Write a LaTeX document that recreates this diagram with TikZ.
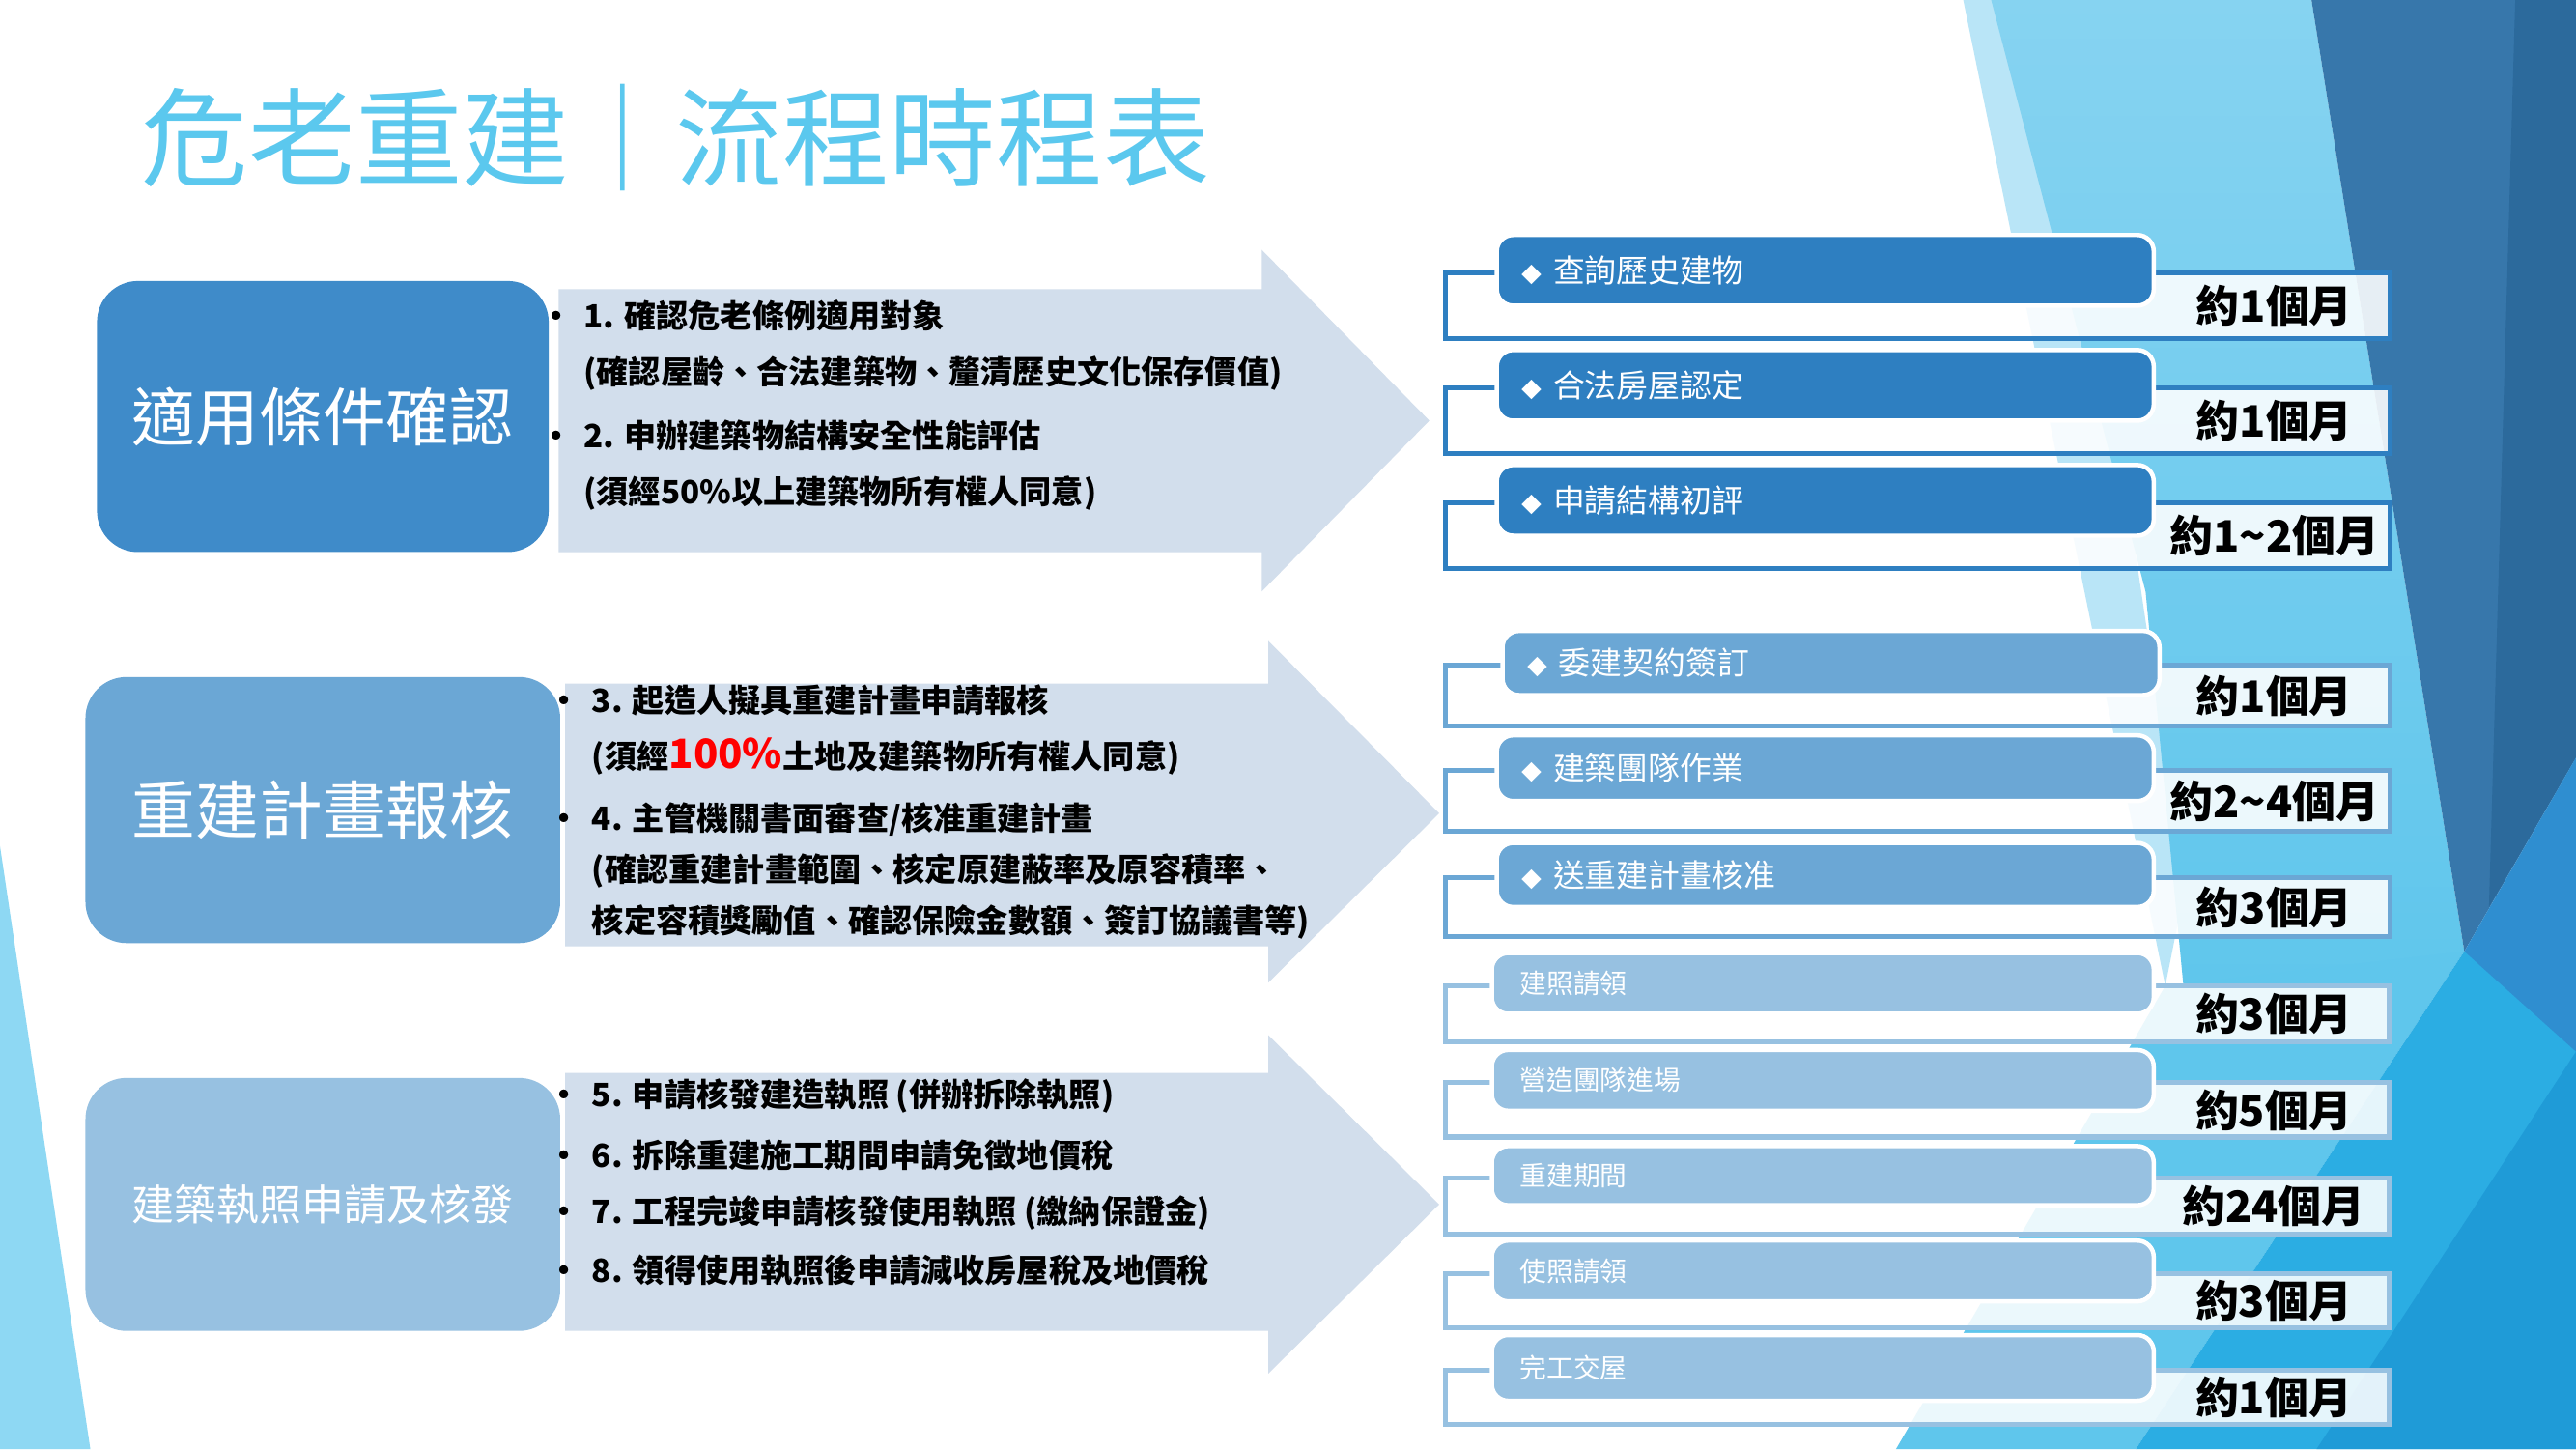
\documentclass[tikz,border=0pt]{standalone}
\usepackage{fontspec}
\setmainfont{Noto Sans CJK TC}
\usetikzlibrary{positioning}

\definecolor{titleblue}{HTML}{5BC8EE}
\definecolor{stageone}{HTML}{3F8BC9}
\definecolor{deepblue}{HTML}{2E7FC1}
\definecolor{midblue}{HTML}{6BA7D5}
\definecolor{paleblue}{HTML}{97C1E1}
\definecolor{arrowfill}{HTML}{D2DEEC}
\definecolor{skytop}{HTML}{86D3F1}
\definecolor{skylow}{HTML}{5FC6EC}
\definecolor{skyband}{HTML}{B9E5F7}
\definecolor{brightblue}{HTML}{2BADE3}
\definecolor{steel}{HTML}{3777AB}
\definecolor{darksteel}{HTML}{2C6A9C}
\definecolor{medblue}{HTML}{2F8ED0}
\definecolor{lowblue}{HTML}{1F9BD7}
\definecolor{wedge}{HTML}{8ED8F3}

\newcommand{\diamondtick}{{\fontsize{7}{7}\selectfont ◆}\hspace{4pt}}

\begin{document}
\begin{tikzpicture}[x=0.02cm, y=-0.02cm,
    stage/.style={rounded corners=0.5cm, text=white, align=center, inner sep=0pt},
    pointtext/.style={anchor=west, align=left, inner sep=0pt,
                      font=\fontsize{11.1}{19.3}\selectfont\bfseries},
    spanbox/.style={draw=#1, line width=1.7pt, fill=white, fill opacity=0.88,
                    minimum width=11.5cm, inner sep=0pt},
    stepbar/.style={fill=#1, draw=white, line width=1.5pt, rounded corners=0.2cm,
                    text=white, text width=7.4cm, inner xsep=0.3cm, inner ysep=0pt,
                    align=left, font=\fontsize{11}{12}\selectfont},
    lowbar/.style={stepbar=paleblue, inner xsep=0.34cm, text width=7.38cm,
                   font=\fontsize{9.3}{10}\selectfont},
    months/.style={inner sep=0pt, font=\fontsize{15}{15}\selectfont\bfseries},
]
\useasboundingbox (0, 0) rectangle (1568, 882);
\fill[white] (0, 0) rectangle (1568, 882);

\fill[skyband] (1195, 0) -- (1250, 0) -- (1330, 540) -- (1318, 600) -- cycle;
\shade[top color=skytop, bottom color=skylow] (1212, 0) -- (1407, 0) -- (1500, 579)
    -- (1330, 610) -- (1306, 360) -- cycle;
\fill[skylow] (1154, 882) -- (1318, 600) -- (1500, 579) -- (1300, 882) -- cycle;
\fill[brightblue] (1300, 882) -- (1500, 579) -- (1568, 600) -- (1568, 882) -- cycle;
\fill[steel] (1407, 0) -- (1568, 0) -- (1568, 461) -- (1500, 579) -- cycle;
\fill[darksteel] (1531, 0) -- (1568, 0) -- (1568, 461) -- (1515, 552) -- cycle;
\fill[medblue] (1500, 579) -- (1568, 461) -- (1568, 640) -- cycle;
\fill[lowblue] (1410, 882) -- (1568, 640) -- (1568, 882) -- cycle;
\fill[wedge] (0, 515) -- (55, 882) -- (0, 882) -- cycle;

\node[anchor=west, inner sep=0pt, text=titleblue, font=\fontsize{37}{40}\selectfont]
    (title) at (86, 84) {危老重建｜流程時程表};

\fill[arrowfill] (340, 176) -- (768, 176) -- (768, 152) -- (870, 256) -- (768, 360)
    -- (768, 336) -- (340, 336) -- cycle;
\fill[arrowfill] (344, 416) -- (772, 416) -- (772, 390) -- (876, 495) -- (772, 598)
    -- (772, 576) -- (344, 576) -- cycle;
\fill[arrowfill] (344, 653) -- (772, 653) -- (772, 630) -- (876, 733) -- (772, 836)
    -- (772, 810) -- (344, 810) -- cycle;

\node[stage, fill=stageone, minimum width=5.5cm, minimum height=3.3cm,
      font=\fontsize{22}{22}\selectfont] (s1) at (196.5, 253.5) {適用條件確認};
\node[stage, fill=midblue, minimum width=5.78cm, minimum height=3.24cm,
      font=\fontsize{22}{22}\selectfont] (s2) at (196.5, 493) {重建計畫報核};
\node[stage, fill=paleblue, minimum width=5.78cm, minimum height=3.08cm,
      font=\fontsize{14.7}{15}\selectfont] (s3) at (196.5, 733) {建築執照申請及核發};

\node[pointtext] (p1) at (355, 210) {\llap{•\hspace{4pt}}1. 確認危老條例適用對象\\(確認屋齡、合法建築物、釐清歷史文化保存價值)};
\node[pointtext] (p2) at (355, 283) {\llap{•\hspace{4pt}}2. 申辦建築物結構安全性能評估\\(須經50\%以上建築物所有權人同意)};
\node[pointtext] (p3) at (360, 444) {\llap{•\hspace{4pt}}3. 起造人擬具重建計畫申請報核\\(須經{\color{red}\fontsize{14}{14}\selectfont 100\%}土地及建築物所有權人同意)};
\node[pointtext, font=\fontsize{11.1}{17.6}\selectfont\bfseries] (p4) at (360, 530)
    {\llap{•\hspace{4pt}}4. 主管機關書面審查/核准重建計畫\\(確認重建計畫範圍、核定原建蔽率及原容積率、\\核定容積獎勵值、確認保險金數額、簽訂協議書等)};
\node[pointtext] (p5) at (360, 667) {\llap{•\hspace{4pt}}5. 申請核發建造執照 (併辦拆除執照)};
\node[pointtext] (p6) at (360, 703) {\llap{•\hspace{4pt}}6. 拆除重建施工期間申請免徵地價稅};
\node[pointtext] (p7) at (360, 738) {\llap{•\hspace{4pt}}7. 工程完竣申請核發使用執照 (繳納保證金)};
\node[pointtext] (p8) at (360, 773) {\llap{•\hspace{4pt}}8. 領得使用執照後申請減收房屋稅及地價稅};

\node[spanbox=deepblue, minimum height=0.8cm] (f1) at (1167.5, 186) {};
\node[stepbar=deepblue, minimum height=0.86cm] (t1) at ([xshift=-1.13cm]f1.north) {\diamondtick 查詢歷史建物};
\node[months] (m1) at ([xshift=-1.44cm]f1.east) {約1個月};

\node[spanbox=deepblue, minimum height=0.8cm] (f2) at (1167.5, 256) {};
\node[stepbar=deepblue, minimum height=0.86cm] (t2) at ([xshift=-1.13cm]f2.north) {\diamondtick 合法房屋認定};
\node[months] (m2) at ([xshift=-1.44cm]f2.east) {約1個月};

\node[spanbox=deepblue, minimum height=0.8cm] (f3) at (1167.5, 326) {};
\node[stepbar=deepblue, minimum height=0.86cm] (t3) at ([xshift=-1.13cm]f3.north) {\diamondtick 申請結構初評};
\node[months] (m3) at ([xshift=-1.44cm]f3.east) {約1\textasciitilde 2個月};

\node[spanbox=midblue, minimum height=0.74cm] (f4) at (1167.5, 423.5) {};
\node[stepbar=midblue, minimum height=0.78cm] (t4) at ([xshift=-1.06cm]f4.north) {\diamondtick 委建契約簽訂};
\node[months] (m4) at ([xshift=-1.44cm]f4.east) {約1個月};

\node[spanbox=midblue, minimum height=0.74cm] (f5) at (1167.5, 487.5) {};
\node[stepbar=midblue, minimum height=0.8cm] (t5) at ([xshift=-1.13cm]f5.north) {\diamondtick 建築團隊作業};
\node[months] (m5) at ([xshift=-1.44cm]f5.east) {約2\textasciitilde 4個月};

\node[spanbox=midblue, minimum height=0.72cm] (f6) at (1167.5, 552) {};
\node[stepbar=midblue, minimum height=0.78cm] (t6) at ([xshift=-1.13cm]f6.north) {\diamondtick 送重建計畫核准};
\node[months] (m6) at ([xshift=-1.44cm]f6.east) {約3個月};

\node[spanbox=paleblue, minimum height=0.68cm] (f7) at (1167, 617) {};
\node[lowbar, minimum height=0.74cm] (t7) at ([xshift=-1.15cm]f7.north) {建照請領};
\node[months] (m7) at ([xshift=-1.44cm]f7.east) {約3個月};

\node[spanbox=paleblue, minimum height=0.66cm] (f8) at (1167, 675.5) {};
\node[lowbar, minimum height=0.74cm] (t8) at ([xshift=-1.15cm]f8.north) {營造團隊進場};
\node[months] (m8) at ([xshift=-1.44cm]f8.east) {約5個月};

\node[spanbox=paleblue, minimum height=0.68cm] (f9) at (1167, 734) {};
\node[lowbar, minimum height=0.72cm] (t9) at ([xshift=-1.15cm]f9.north) {重建期間};
\node[months] (m9) at ([xshift=-1.44cm]f9.east) {約24個月};

\node[spanbox=paleblue, minimum height=0.66cm] (f10) at (1167, 791.5) {};
\node[lowbar, minimum height=0.74cm] (t10) at ([xshift=-1.15cm]f10.north) {使照請領};
\node[months] (m10) at ([xshift=-1.44cm]f10.east) {約3個月};

\node[spanbox=paleblue, minimum height=0.66cm] (f11) at (1167, 850.5) {};
\node[lowbar, minimum height=0.8cm] (t11) at ([xshift=-1.15cm]f11.north) {完工交屋};
\node[months] (m11) at ([xshift=-1.44cm]f11.east) {約1個月};
\end{tikzpicture}
\end{document}
